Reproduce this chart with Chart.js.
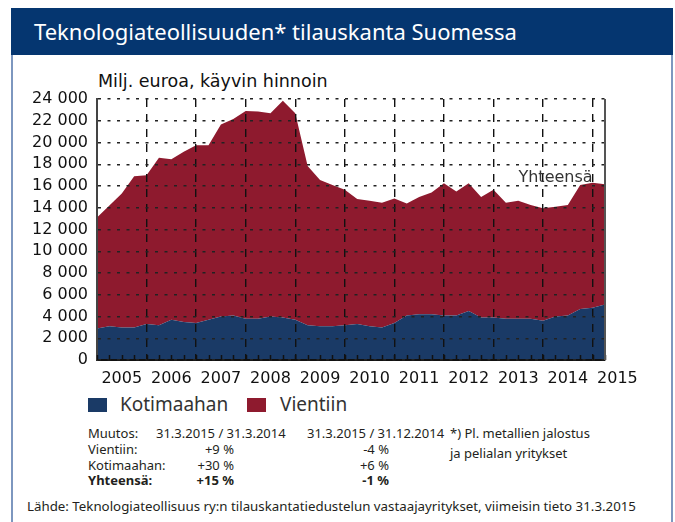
<!DOCTYPE html>
<html>
<head>
<meta charset="utf-8">
<title>Teknologiateollisuuden tilauskanta</title>
<script src="https://cdn.jsdelivr.net/npm/chart.js@4.4.1/dist/chart.umd.min.js"></script>
<style>
  html, body { margin: 0; padding: 0; background: #fff; }
  body { position: relative; width: 675px; height: 522px; overflow: hidden; font-family: 'Noto Sans', 'Open Sans', sans-serif; color: #231f20; }
  .header { position: absolute; left: 11px; top: 8px; width: 662px; height: 47px; background: #053670; }
  .header h1 { position: absolute; left: 23px; top: 9px; margin: 0; font-weight: normal; font-size: 22px; line-height: 28px; color: #fff; white-space: nowrap; }
  .panel { position: absolute; left: 11px; top: 55px; width: 658px; height: 480px; border-left: 2px solid #7d97bf; border-right: 2px solid #7d97bf; }
  .unit { position: absolute; left: 98px; top: 70px; font: 17.5px 'DejaVu Sans'; line-height: 22px; color: #111; white-space: nowrap; }
  #chartWrap { position: absolute; left: 20px; top: 70px; width: 640px; height: 320px; }
  .lg-box { position: absolute; top: 398px; width: 19px; height: 14px; }
  .lg-text { position: absolute; top: 392px; font-size: 19px; line-height: 24px; color: #333; }
  .t { position: absolute; font-size: 13px; line-height: 16px; white-space: nowrap; color: #231f20; }
  .r { text-align: right; }
  .b { font-weight: bold; }
</style>
</head>
<body>
  <div class="panel"></div>
  <div class="header"><h1>Teknologiateollisuuden* tilauskanta Suomessa</h1></div>
  <div class="unit">Milj. euroa, käyvin hinnoin</div>
  <div id="chartWrap"><canvas id="chart"></canvas></div>

  <div class="lg-box" style="left:88px; background:#1a3a66"></div>
  <div class="lg-text" style="left:120px">Kotimaahan</div>
  <div class="lg-box" style="left:247px; background:#8e1a2e"></div>
  <div class="lg-text" style="left:280px">Vientiin</div>

  <div class="t" style="left:88px; top:425px">Muutos:</div>
  <div class="t" style="left:156px; top:425px">31.3.2015 / 31.3.2014</div>
  <div class="t" style="left:307px; top:425px">31.3.2015 / 31.12.2014</div>
  <div class="t" style="left:450px; top:425px">*) Pl. metallien jalostus</div>
  <div class="t" style="left:450px; top:445px">ja pelialan yritykset</div>

  <div class="t" style="left:88px; top:441px">Vientiin:</div>
  <div class="t r" style="left:184px; width:50px; top:441px">+9 %</div>
  <div class="t r" style="left:339px; width:50px; top:441px">-4 %</div>

  <div class="t" style="left:88px; top:457px">Kotimaahan:</div>
  <div class="t r" style="left:184px; width:50px; top:457px">+30 %</div>
  <div class="t r" style="left:339px; width:50px; top:457px">+6 %</div>

  <div class="t b" style="left:88px; top:472px">Yhteensä:</div>
  <div class="t r b" style="left:184px; width:50px; top:472px">+15 %</div>
  <div class="t r b" style="left:339px; width:50px; top:472px">-1 %</div>

  <div class="t" style="left:27px; top:498px; font-size:13.3px">Lähde: Teknologiateollisuus ry:n tilauskantatiedustelun vastaajayritykset, viimeisin tieto 31.3.2015</div>

<script>
; (function () {
    'use strict'

    // ── Data: quarterly order book, 31.12.2004 … 31.3.2015 (milj. €) ────────
    const years = ['2005', '2006', '2007', '2008', '2009', '2010', '2011', '2012', '2013', '2014', '2015']
    const kotimaahan = [
        2900, 3100, 3000, 3000, 3300, 3200, 3700, 3500, 3400, 3700,
        4000, 4100, 3800, 3800, 4000, 3900, 3700, 3200, 3100, 3100,
        3200, 3300, 3100, 3000, 3400, 4100, 4200, 4200, 4100, 4100,
        4500, 3900, 3900, 3800, 3800, 3800, 3600, 4000, 4100, 4700,
        4800, 5100
    ]
    const vientiin = [
        10200, 11100, 12300, 13900, 13700, 15400, 14750, 15650, 16350, 16050,
        17650, 18050, 19100, 19050, 18700, 19950, 19000, 14650, 13450, 13000,
        12450, 11500, 11550, 11450, 11450, 10300, 10800, 11200, 12150, 11400,
        11750, 11100, 11750, 10650, 10850, 10450, 10350, 10100, 10150, 11400,
        11500, 11050
    ]
    const yTicks = { min: 0, max: 24000, step: 2000 }

    const $ = id => document.getElementById(id)
    const toXY = arr => arr.map((v, i) => ({ x: i, y: v }))
    const fmt = v => String(v).replace(/\B(?=(\d{3})+(?!\d))/g, ' ')
    const lastIdx = kotimaahan.length - 1

    // ── Extras: year labels, quarter ticks, right frame, "Yhteensä" ─────────
    const extras = {
        id: 'extras',
        afterDraw(c) {
            const { ctx, chartArea: a } = c
            const xs = c.scales.x, ys = c.scales.y
            ctx.save()
            // quarter ticks pointing up from the base line
            ctx.strokeStyle = '#111'
            ctx.lineWidth = 1.5
            for (let i = 0; i <= lastIdx; i++) {
                const px = Math.round(xs.getPixelForValue(i)) + 0.5
                ctx.beginPath(); ctx.moveTo(px, a.bottom); ctx.lineTo(px, a.bottom - 5); ctx.stroke()
            }
            // right frame line
            ctx.strokeStyle = '#555'
            ctx.lineWidth = 2
            ctx.beginPath(); ctx.moveTo(a.right, a.top); ctx.lineTo(a.right, a.bottom); ctx.stroke()
            // year labels centred on each year span
            ctx.fillStyle = '#111'
            ctx.font = '16px "DejaVu Sans"'
            ctx.textAlign = 'center'
            ctx.textBaseline = 'alphabetic'
            years.forEach((y, k) => {
                ctx.fillText(y, xs.getPixelForValue(2 + k * 4), a.bottom + 23)
            })
            // total label
            ctx.fillStyle = '#333'
            ctx.textAlign = 'right'
            ctx.fillText('Yhteensä', xs.getPixelForValue(40.0), ys.getPixelForValue(16400))
            ctx.restore()
        }
    }

    // ── Chart ────────────────────────────────────────────────────────────────
    new Chart($('chart'), {
        type: 'line',
        data: {
            datasets: [{
                label: 'Kotimaahan',
                data: toXY(kotimaahan),
                backgroundColor: '#1a3a66',
                borderWidth: 0,
                pointRadius: 0,
                fill: 'origin'
            }, {
                label: 'Vientiin',
                data: toXY(vientiin),
                backgroundColor: '#8e1a2e',
                borderWidth: 0,
                pointRadius: 0,
                fill: '-1'
            }]
        },
        options: {
            responsive: true,
            maintainAspectRatio: false,
            animation: false,
            layout: { padding: { left: 0, right: 55, top: 29, bottom: 0 } },
            plugins: { legend: { display: false }, tooltip: { enabled: false } },
            scales: {
                x: {
                    type: 'linear',
                    min: 0,
                    max: lastIdx,
                    afterBuildTicks: s => { s.ticks = years.slice(0, -1).map((y, k) => ({ value: 4 + k * 4 })) },
                    afterFit: s => { s.height = 30 },
                    ticks: { display: false },
                    grid: { z: 1, color: '#111', lineWidth: 1.4, drawTicks: false },
                    border: { z: 1, display: true, color: '#111', width: 2, dash: [8, 7] }
                },
                y: {
                    stacked: true,
                    min: yTicks.min,
                    max: yTicks.max,
                    afterFit: s => { s.width = 77 },
                    ticks: {
                        stepSize: yTicks.step,
                        autoSkip: false,
                        padding: 9,
                        color: '#111',
                        font: { family: 'DejaVu Sans', size: 16 },
                        callback: v => fmt(v)
                    },
                    grid: { z: 1, color: '#222', lineWidth: 1.4, drawTicks: false },
                    border: { z: 1, display: true, color: '#444', width: 2, dash: [3, 6.5] }
                }
            }
        },
        plugins: [extras]
    })
})()
</script>
</body>
</html>
